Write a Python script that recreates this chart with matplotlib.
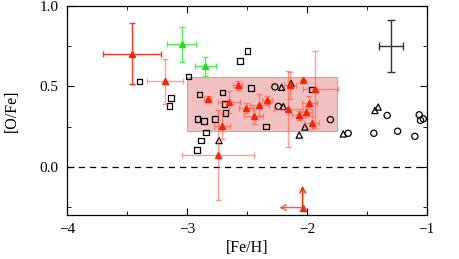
import numpy as np
import matplotlib
matplotlib.use("Agg")
import matplotlib.pyplot as plt
from matplotlib.patches import Rectangle
from matplotlib.ticker import MultipleLocator

plt.rcParams['font.family'] = ['Liberation Serif', 'DejaVu Serif']

# open squares
sq_feh = [-3.394, -2.494, -2.556, -2.986, -3.133, -3.144, -2.896, -2.704, -2.467,
          -2.688, -2.678, -2.912, -2.856, -2.767, -2.842, -2.883, -2.917, -2.342, -1.961]
sq_ofe = [0.531, 0.721, 0.656, 0.561, 0.429, 0.379, 0.450, 0.461, 0.491,
          0.391, 0.333, 0.298, 0.283, 0.298, 0.214, 0.163, 0.103, 0.250, 0.481]

# open triangles
tri_feh = [-2.211, -2.133, -2.197, -2.017, -2.064, -2.733, -1.697, -1.433, -1.406]
tri_ofe = [0.494, 0.519, 0.375, 0.247, 0.197, 0.163, 0.204, 0.350, 0.371]

# open circles
circ_feh = [-2.267, -2.238, -1.804, -1.656, -1.331, -1.442, -1.244, -1.100, -1.064, -1.053, -1.030]
circ_ofe = [0.496, 0.375, 0.293, 0.208, 0.319, 0.208, 0.221, 0.189, 0.323, 0.288, 0.298]

# red filled triangles with errors
red_feh = [-3.456, -3.183, -2.828, -2.578, -2.650, -2.508, -2.396, -2.333, -2.442, -2.708,
           -2.142, -2.031, -1.933, -2.154, -1.979, -2.008, -2.067, -1.961, -2.744]
red_ofe = [0.704, 0.533, 0.422, 0.506, 0.402, 0.367, 0.384, 0.413, 0.316, 0.253,
           0.506, 0.538, 0.481, 0.359, 0.398, 0.339, 0.319, 0.275, 0.072]
red_xlo = [0.24, 0.15, 0.03, 0.04, 0.09, 0.06, 0.08, 0.04, 0.08, 0.07,
           0.05, 0.0, 0.10, 0.12, 0.06, 0.05, 0.055, 0.06, 0.30]
red_xhi = [0.24, 0.15, 0.03, 0.04, 0.09, 0.06, 0.08, 0.04, 0.08, 0.07,
           0.05, 0.0, 0.19, 0.12, 0.06, 0.05, 0.055, 0.06, 0.30]
red_yerr = [0.19, 0.14, 0.02, 0.026, 0.07, 0.03, 0.07, 0.025, 0.05, 0.08,
            0.083, 0.0, 0.24, 0.235, 0.04, 0.03, 0.03, 0.04, 0.28]

# green triangles
grn_feh = [-3.044, -2.847]
grn_ofe = [0.762, 0.625]
grn_xerr = [0.12, 0.085]
grn_yerr = [0.11, 0.06]

# limit point (upper limit in [Fe/H], lower limit in [O/Fe])
lim_feh = [-2.036]
lim_ofe = [-0.254]
lim_dx = [-0.195]
lim_dy = [0.135]

# shaded region
box_feh = [-3.0, -1.75]
box_ofe = [0.22, 0.56]

# typical error
typ_feh = [-1.3]
typ_ofe = [0.75]
typ_xerr = [0.1]
typ_yerr = [0.16]

fig = plt.figure(figsize=(4.59, 2.59), dpi=100)
ax = fig.add_axes([0.146, 0.170, 0.784, 0.807])

ax.add_patch(Rectangle((box_feh[0], box_ofe[0]), box_feh[1] - box_feh[0], box_ofe[1] - box_ofe[0],
                       facecolor='#d94c4c', alpha=0.35, edgecolor='red', lw=0.8, zorder=1))

ax.axhline(0.0, color='k', ls=(0, (5, 4)), lw=0.9, zorder=1)

ax.scatter(sq_feh, sq_ofe, marker='s', s=16, facecolors='none', edgecolors='k', lw=0.9, zorder=3)
ax.scatter(tri_feh, tri_ofe, marker='^', s=20, facecolors='none', edgecolors='k', lw=0.9, zorder=3)
ax.scatter(circ_feh, circ_ofe, marker='o', s=20, facecolors='none', edgecolors='k', lw=0.9, zorder=3)

ax.errorbar(red_feh[:1], red_ofe[:1], xerr=[red_xlo[:1], red_xhi[:1]], yerr=red_yerr[:1],
            fmt='^', color='#ff2200', ecolor='#ff3322', ms=5, elinewidth=1.0, capsize=2.5, zorder=4)
ax.errorbar(red_feh[1:], red_ofe[1:], xerr=[red_xlo[1:], red_xhi[1:]], yerr=red_yerr[1:],
            fmt='^', color='#ff2200', ecolor=(1.0, 0.3, 0.25, 0.55), ms=5, elinewidth=1.0,
            capsize=2.5, zorder=4)

ax.errorbar(grn_feh, grn_ofe, xerr=grn_xerr, yerr=grn_yerr, fmt='^', color='#22dd22',
            ecolor='#55ee55', ms=5, elinewidth=1.0, capsize=2.5, zorder=4)

ax.plot(lim_feh, lim_ofe, '^', color='#ff2200', ms=5, zorder=4)
for x, y, dx, dy in zip(lim_feh, lim_ofe, lim_dx, lim_dy):
    ax.annotate('', xy=(x, y + dy), xytext=(x, y),
                arrowprops=dict(arrowstyle='->', color='#ff2200', lw=1.0, shrinkA=0, shrinkB=0))
    ax.annotate('', xy=(x + dx, y), xytext=(x, y),
                arrowprops=dict(arrowstyle='->', color='#ff5544', lw=1.0, shrinkA=0, shrinkB=0))

ax.errorbar(typ_feh, typ_ofe, xerr=typ_xerr, yerr=typ_yerr, fmt='none', ecolor='#333333',
            elinewidth=1.0, capsize=3, zorder=4)

ax.set_xlim(-4, -1)
ax.set_ylim(-0.3, 1.0)
ax.xaxis.set_major_locator(MultipleLocator(1))
ax.xaxis.set_minor_locator(MultipleLocator(0.5))
ax.yaxis.set_major_locator(MultipleLocator(0.5))
ax.yaxis.set_minor_locator(MultipleLocator(0.25))
ax.tick_params(which='both', direction='in', top=True, right=True, labelsize=11)
ax.tick_params(axis='x', which='major', pad=6)
ax.tick_params(axis='y', which='major', pad=6)
ax.tick_params(which='major', length=5)
ax.tick_params(which='minor', length=3)
for sp in ax.spines.values():
    sp.set_linewidth(0.9)

ax.set_xlabel('[Fe/H]', fontsize=11.5, labelpad=3)
ax.set_ylabel('[O/Fe]', fontsize=11.5, labelpad=14)

fig.savefig('out.png', dpi=100)
